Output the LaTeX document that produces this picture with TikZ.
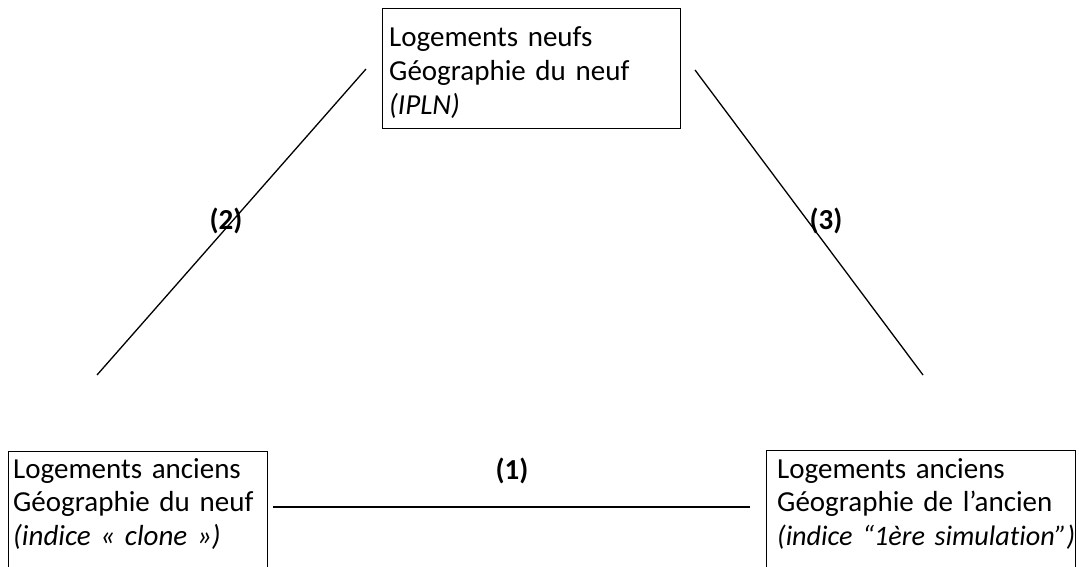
\documentclass[tikz,border=0pt]{standalone}
\usepackage{fontspec}
\setmainfont[Ligatures={NoCommon,NoRare}]{Carlito}
\newcommand\mytxtfont{\fontsize{29}{33.7}\selectfont}
\begin{document}
\begin{tikzpicture}[x=1pt,y=-1pt,
  box/.style={draw, line width=1.4pt, inner sep=0pt, anchor=north west},
  txt/.style={anchor=base west, inner sep=0pt, align=left, text width=330pt, font=\mytxtfont},
  lbl/.style={inner sep=0pt, font=\fontsize{29}{33.7}\selectfont\bfseries},
  link/.style={line width=1.3pt}]
\useasboundingbox (0,0) rectangle (1079,567);
\clip (0,0) rectangle (1079,567);
% boxes
\node[box, minimum width=298pt, minimum height=120pt] (topbox) at (382,8) {};
\node[box, minimum width=259pt, minimum height=140pt] (leftbox) at (8,451) {};
\node[box, minimum width=309pt, minimum height=140pt] (rightbox) at (766,450) {};
% texts
\node[txt] (toptext) at (389,47) {Logements neufs\\Géographie du neuf\\\textit{(IPLN)}};
\node[txt] (lefttext) at (13,478) {Logements anciens\\Géographie du neuf\\\textit{(indice « clone »)}};
\node[txt] (righttext) at (777,478) {Logements anciens\\Géographie de l’ancien\\{\fontsize{28.2}{33.7}\selectfont\textit{(indice “1ère simulation”)}}};
% connectors
\coordinate (a1) at (366,69);
\coordinate (a2) at (97,375);
\coordinate (b1) at (695,70);
\coordinate (b2) at (923,375);
\coordinate (c1) at (273,507);
\coordinate (c2) at (750,507);
\draw[link] (a1) -- (a2);
\draw[link] (b1) -- (b2);
\draw[link] (c1) -- (c2);
% labels
\node[lbl] (l2) at (226,221) {(2)};
\node[lbl] (l3) at (826,221) {(3)};
\node[lbl] (l1) at (512,471) {(1)};
\end{tikzpicture}
\end{document}
